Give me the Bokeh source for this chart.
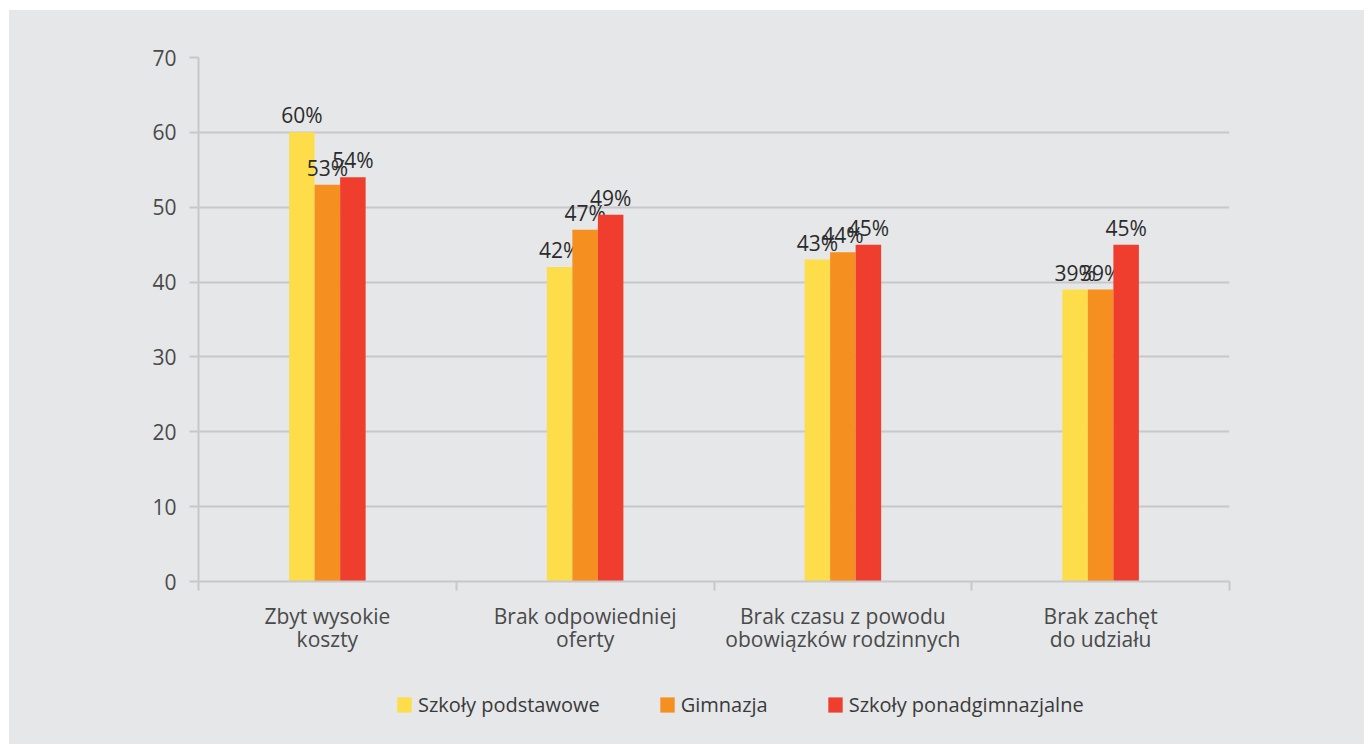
from bokeh.plotting import figure
from bokeh.models import ColumnDataSource, FixedTicker, Legend, LegendItem, Range1d
from bokeh.layouts import column
from bokeh.core.properties import value
from bokeh.embed import file_html
from bokeh.resources import INLINE

categories = ["Zbyt wysokie\nkoszty", "Brak odpowiedniej\noferty",
              "Brak czasu z powodu\nobowiązków rodzinnych", "Brak zachęt\ndo udziału"]
series_names = ["Szkoły podstawowe", "Gimnazja", "Szkoły ponadgimnazjalne"]
podstawowe = [60, 42, 43, 39]
gimnazja = [53, 47, 44, 39]
ponadgimnazjalne = [54, 49, 45, 45]
y_ticks = [0, 10, 20, 30, 40, 50, 60, 70]

colors = ["#FDDD4A", "#F58F1F", "#EF3E2E"]
BG = "#E6E7E9"
GRID = "#C8C8CA"
FONT = "Open Sans"

p = figure(width=1355, height=670, output_backend="svg", toolbar_location=None,
           x_range=Range1d(0, 4), y_range=Range1d(0, 70),
           background_fill_color=BG, border_fill_color=BG,
           min_border_left=189, min_border_right=135, min_border_top=47, min_border_bottom=99,
           outline_line_color=None)

bar_w = 0.099
offsets = [-bar_w, 0.0, bar_w]
for vals, col, off in zip([podstawowe, gimnazja, ponadgimnazjalne], colors, offsets):
    xs = [i + 0.5 + off for i in range(len(vals))]
    src = ColumnDataSource(dict(x=xs, top=vals, lab=[f"{v}%" for v in vals]))
    p.vbar(x="x", top="top", width=bar_w, source=src, fill_color=col, line_color=None)
    p.text(x="x", y="top", text="lab", source=src, text_align="center", text_baseline="bottom",
           y_offset=-3, text_font=value(FONT), text_font_size="21px", text_color="#2b2b2b")

# grid
p.xgrid.grid_line_color = None
p.ygrid.ticker = FixedTicker(ticks=y_ticks)
p.ygrid.grid_line_color = GRID
p.ygrid.grid_line_width = 2

# y axis
yax = p.yaxis[0]
yax.ticker = FixedTicker(ticks=y_ticks)
yax.axis_line_color = GRID
yax.axis_line_width = 2
yax.major_tick_line_color = GRID
yax.major_tick_line_width = 2
yax.major_tick_out = 9
yax.major_tick_in = 0
yax.minor_tick_line_color = None
yax.major_label_standoff = 13
yax.major_label_text_font = FONT
yax.major_label_text_font_size = "21px"
yax.major_label_text_color = "#4a4a4a"

# x axis
xax = p.xaxis[0]
xax.ticker = FixedTicker(ticks=[i + 0.5 for i in range(len(categories))],
                         minor_ticks=list(range(len(categories) + 1)))
xax.major_label_overrides = {i + 0.5: c for i, c in enumerate(categories)}
xax.axis_line_color = GRID
xax.axis_line_width = 2
xax.major_tick_line_color = None
xax.major_tick_out = 0
xax.major_tick_in = 0
xax.minor_tick_line_color = GRID
xax.minor_tick_line_width = 2
xax.minor_tick_out = 9
xax.minor_tick_in = 0
xax.major_label_standoff = 11
xax.major_label_text_font = FONT
xax.major_label_text_font_size = "21px"
xax.major_label_text_color = "#4a4a4a"
xax.major_label_text_line_height = 0.85

# legend strip below the chart (proxy glyphs sit outside the visible range)
lf = figure(width=1355, height=64, output_backend="svg", toolbar_location=None,
            x_axis_type=None, y_axis_type=None, x_range=Range1d(0, 1), y_range=Range1d(0, 1),
            background_fill_color=BG, background_fill_alpha=0, border_fill_color=BG,
            outline_line_color=None, min_border=0)
lf.xgrid.grid_line_color = None
lf.ygrid.grid_line_color = None
proxies = [lf.vbar(x=[-5], top=[0], width=0.1, fill_color=c, line_color=None) for c in colors]
legend = Legend(items=[LegendItem(label=n, renderers=[r]) for n, r in zip(series_names, proxies)],
                orientation="horizontal", location=(197, 26),
                padding=0, margin=0, spacing=58, label_standoff=5,
                glyph_width=18, glyph_height=19,
                border_line_alpha=0, background_fill_alpha=0,
                label_text_font=FONT, label_text_font_size="20px", label_text_color="#3a3a3a")
lf.add_layout(legend, "center")

layout = column(p, lf, spacing=0, margin=(10, 0, 0, 9), styles={"background-color": BG})
open("out.html", "w").write(file_html(layout, INLINE))
